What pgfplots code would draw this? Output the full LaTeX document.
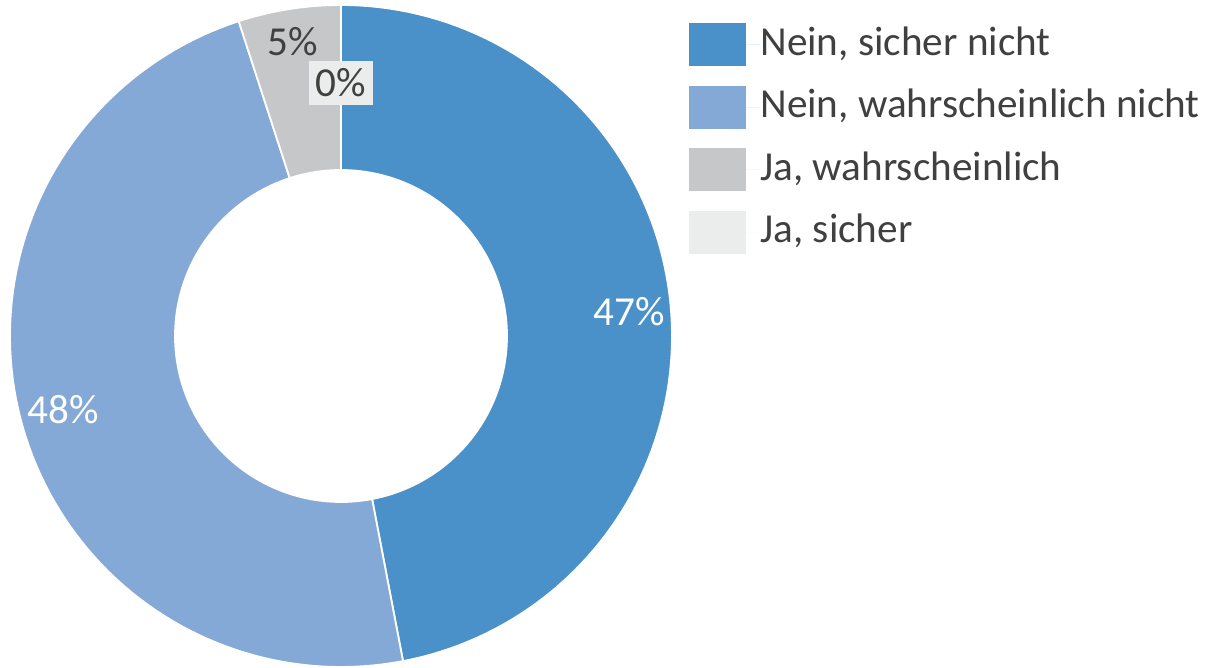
\documentclass[border=0pt]{standalone}
\usepackage{pgfplots}
\pgfplotsset{compat=1.18}
\usepackage{fontspec}
\setmainfont{Carlito}
\definecolor{cA}{RGB}{74,144,201}
\definecolor{cB}{RGB}{132,169,214}
\definecolor{cC}{RGB}{198,199,201}
\definecolor{cD}{RGB}{235,237,236}
\definecolor{txt}{RGB}{64,64,64}
% cx, cy = centre; R outer, r inner (pixel units)
\def\cx{341}\def\cy{332}\def\Ro{331}\def\Ri{166}
% #1 colour, #2 cumulative start (%), #3 cumulative end (%)
\newcommand{\sector}[3]{%
  \addplot[fill=#1, draw=white, line width=0.9pt, samples at={0,1,...,202}, variable=\t, forget plot]
  ({\cx + (((\t<100.5) || (\t>201.5)) ? \Ro : \Ri)*cos(((\t<100.5) ? (90-3.6*#2 + (3.6*#2-3.6*#3)*\t/100) : ((\t>201.5) ? (90-3.6*#2) : (90-3.6*#3 - (3.6*#2-3.6*#3)*(\t-101)/100))))},
   {\cy + (((\t<100.5) || (\t>201.5)) ? \Ro : \Ri)*sin(((\t<100.5) ? (90-3.6*#2 + (3.6*#2-3.6*#3)*\t/100) : ((\t>201.5) ? (90-3.6*#2) : (90-3.6*#3 - (3.6*#2-3.6*#3)*(\t-101)/100))))});}
\newcommand{\lblfont}{\fontsize{20.6}{24}\selectfont}
\begin{document}
\begin{tikzpicture}
\begin{axis}[
  width=603pt, height=334pt, scale only axis,
  xmin=0, xmax=1206, ymin=0, ymax=668,
  hide axis, clip=false,
  legend image code/.code={\fill[#1, draw=none] (0pt,-10.75pt) rectangle (28.5pt,10.75pt); \path (0pt,0pt) -- (35.5pt,0pt);},
  legend cell align=left,
  legend style={at={(axis cs:689,645)}, anchor=north west, draw=none, fill=none,
    font=\lblfont\color{txt}, inner sep=0pt, row sep=9.7pt,
    nodes={inner sep=0pt, text height=15pt, text depth=4.5pt}},
]
\coordinate (bl) at (rel axis cs:0,0);
\coordinate (tr) at (rel axis cs:1,1);
\sector{cA}{0}{47}
\sector{cB}{47}{95}
\sector{cC}{95}{100}
\addlegendimage{fill=cA, draw=none}
\addlegendentry{Nein, sicher nicht}
\addlegendimage{fill=cB, draw=none}
\addlegendentry{Nein, wahrscheinlich nicht}
\addlegendimage{fill=cC, draw=none}
\addlegendentry{Ja, wahrscheinlich}
\addlegendimage{fill=cD, draw=none}
\addlegendentry{Ja, sicher}
\node[white, font=\lblfont] at (axis cs:629,356) {47\%};
\node[white, font=\lblfont] at (axis cs:63,258) {48\%};
\node[txt, font=\lblfont] at (axis cs:293,626) {5\%};
\node[txt, fill=cD, font=\lblfont, minimum width=32pt, minimum height=22pt, inner sep=0pt] at (axis cs:341,585) {0\%};
\end{axis}
\pgfresetboundingbox
\path[use as bounding box] (bl) rectangle (tr);
\end{tikzpicture}
\end{document}
